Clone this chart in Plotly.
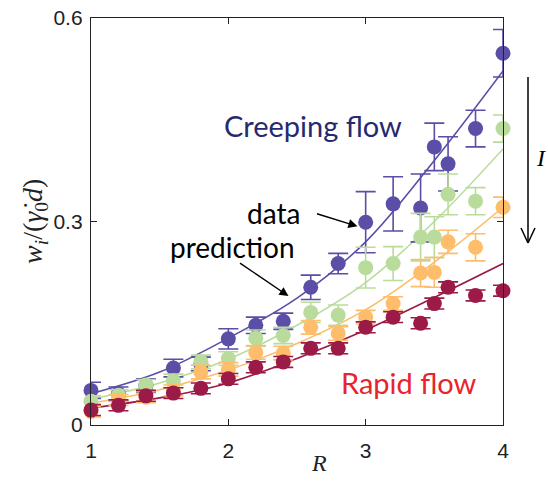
import plotly.graph_objects as go

# ---- data ----
R = [1.0, 1.2, 1.4, 1.6, 1.8, 2.0, 2.2, 2.4, 2.6, 2.8, 3.0, 3.2, 3.4, 3.5, 3.6, 3.8, 4.0]

purple = [0.051, 0.046, 0.058, 0.084, 0.090, 0.127, 0.147, 0.153, 0.203, 0.238, 0.299, 0.326, 0.320, 0.410, 0.385, 0.437, 0.548]
purple_err = [0.012, 0.010, 0.010, 0.013, 0.010, 0.015, 0.012, 0.012, 0.018, 0.015, 0.045, 0.040, 0.050, 0.035, 0.040, 0.027, 0.035]

green = [0.035, 0.044, 0.059, 0.065, 0.093, 0.098, 0.128, 0.132, 0.166, 0.162, 0.232, 0.238, 0.277, 0.277, 0.340, 0.330, 0.437]
green_err = [0.008, 0.008, 0.008, 0.010, 0.010, 0.010, 0.012, 0.012, 0.015, 0.015, 0.030, 0.025, 0.035, 0.030, 0.030, 0.020, 0.020]

orange = [0.020, 0.037, 0.041, 0.051, 0.078, 0.082, 0.107, 0.106, 0.144, 0.135, 0.159, 0.179, 0.224, 0.225, 0.270, 0.262, 0.321]
orange_err = [0.008, 0.008, 0.008, 0.008, 0.010, 0.010, 0.010, 0.010, 0.010, 0.010, 0.010, 0.010, 0.020, 0.022, 0.017, 0.020, 0.015]

red = [0.022, 0.029, 0.043, 0.047, 0.054, 0.068, 0.085, 0.093, 0.113, 0.113, 0.144, 0.159, 0.150, 0.179, 0.203, 0.191, 0.198]
red_err = [0.008] * 17

R_pred = [1.0, 1.5, 2.0, 2.5, 3.0, 3.5, 4.0]
purple_pred = [0.046, 0.078, 0.128, 0.187, 0.270, 0.390, 0.522]
green_pred = [0.038, 0.062, 0.097, 0.147, 0.210, 0.300, 0.407]
orange_pred = [0.032, 0.052, 0.081, 0.120, 0.170, 0.240, 0.321]
red_pred = [0.025, 0.040, 0.062, 0.098, 0.140, 0.188, 0.238]

x_ticks = [1, 2, 3, 4]
y_ticks = [0, 0.3, 0.6]
y_tick_text = ["0", "0.3", "0.6"]

series = [
    (purple, purple_err, purple_pred, "#5a4ea6"),
    (green, green_err, green_pred, "#b9dc9c"),
    (orange, orange_err, orange_pred, "#fdbd6a"),
    (red, red_err, red_pred, "#9c1a47"),
]

fig = go.Figure()
for vals, errs, pred, col in series:
    fig.add_trace(go.Scatter(
        x=R_pred, y=pred, mode="lines", line=dict(color=col, width=1.6, shape="spline"),
        showlegend=False, hoverinfo="skip", cliponaxis=False))
for vals, errs, pred, col in series:
    fig.add_trace(go.Scatter(
        x=R, y=vals, mode="markers",
        marker=dict(color=col, size=15, line=dict(width=0)),
        error_y=dict(type="data", array=errs, visible=True, color=col, thickness=1.6, width=10),
        showlegend=False, cliponaxis=False))

tick_font = dict(family="Liberation Sans, Arial, sans-serif", size=21, color="#222222")
label_font = "Lato, Noto Sans, sans-serif"

annotations = [
    dict(x=2.613, y=0.441, xref="x", yref="y", text="Creeping flow", showarrow=False,
         font=dict(family=label_font, size=29, color="#252a70")),
    dict(x=3.314, y=0.063, xref="x", yref="y", text="Rapid flow", showarrow=False,
         font=dict(family=label_font, size=29, color="#e8242c")),
    dict(x=2.328, y=0.312, xref="x", yref="y", text="data", showarrow=False,
         font=dict(family=label_font, size=28, color="black")),
    dict(x=2.03, y=0.262, xref="x", yref="y", text="prediction", showarrow=False,
         font=dict(family=label_font, size=28, color="black")),
    dict(x=2.94, y=0.293, xref="x", yref="y", text="", showarrow=True, ax=-42, ay=-13,
         arrowhead=2, arrowsize=1.3, arrowwidth=1.4, arrowcolor="black"),
    dict(x=2.438, y=0.19, xref="x", yref="y", text="", showarrow=True, ax=-50, ay=-34,
         arrowhead=2, arrowsize=1.3, arrowwidth=1.4, arrowcolor="black"),
    dict(x=(541 - 91) / 412, y=(425 - 158) / 407, xref="paper", yref="paper", text="<i>I</i>",
         showarrow=False, xanchor="center", yanchor="middle",
         font=dict(family="Liberation Serif, serif", size=24, color="black")),
    dict(x=(35 - 91) / 412, y=(425 - 222) / 407, xref="paper", yref="paper", textangle=-90,
         xanchor="center", yanchor="middle",
         text="<i>w<sub>i</sub></i>/(<i>γ̇</i><sub>0</sub><i>d</i>)", showarrow=False,
         font=dict(family="Liberation Serif, serif", size=28, color="#222")),
    dict(x=(319 - 91) / 412, y=(425 - 463) / 407, xref="paper", yref="paper",
         xanchor="center", yanchor="middle",
         text="<i>R</i>", showarrow=False,
         font=dict(family="Liberation Serif, serif", size=24, color="#222")),
]

# big downward arrow (open head) outside plot
ax_x = (528 - 91) / 412
y_top = (425 - 77) / 407
y_bot = (425 - 243) / 407
hw = 7 / 412
hh = 15 / 407
shapes = [
    dict(type="line", xref="paper", yref="paper", x0=ax_x, x1=ax_x, y0=y_top, y1=y_bot,
         line=dict(color="black", width=1.5)),
    dict(type="line", xref="paper", yref="paper", x0=ax_x - hw, x1=ax_x, y0=y_bot + hh, y1=y_bot,
         line=dict(color="black", width=1.5)),
    dict(type="line", xref="paper", yref="paper", x0=ax_x + hw, x1=ax_x, y0=y_bot + hh, y1=y_bot,
         line=dict(color="black", width=1.5)),
]

fig.update_layout(
    width=548, height=486,
    margin=dict(l=91, r=45, t=18, b=61),
    paper_bgcolor="white", plot_bgcolor="white",
    annotations=annotations, shapes=shapes,
    xaxis=dict(range=[1, 4], tickvals=x_ticks, ticks="inside", ticklen=6, tickcolor="#222",
               showline=True, linecolor="#222", linewidth=1.3, mirror="ticks",
               showgrid=False, zeroline=False, tickfont=tick_font, ticklabelstandoff=7,
               automargin=False),
    yaxis=dict(range=[0, 0.6], tickvals=y_ticks, ticktext=y_tick_text, ticks="inside", ticklen=6,
               tickcolor="#222", showline=True, linecolor="#222", linewidth=1.3, mirror="ticks",
               showgrid=False, zeroline=False, tickfont=tick_font, ticklabelstandoff=3,
               automargin=False),
)

fig.write_html("out.html")
